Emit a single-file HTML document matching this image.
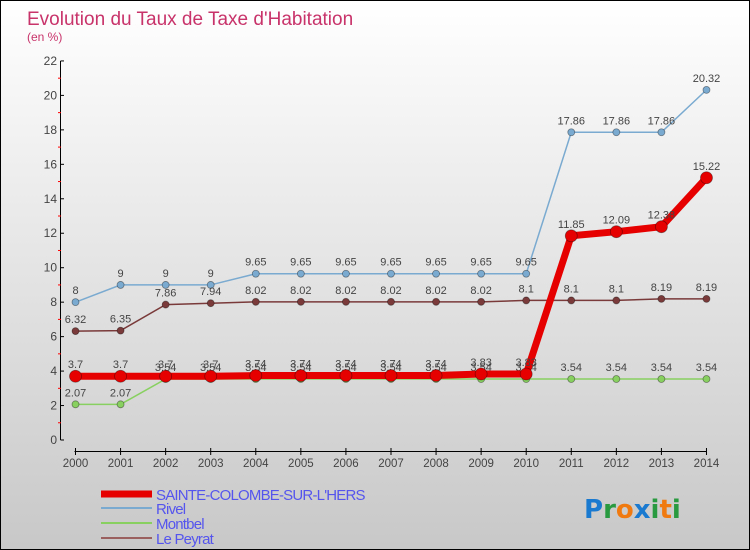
<!DOCTYPE html>
<html><head><meta charset="utf-8"><style>
body{margin:0}
#wrap{width:748px;height:548px;border:1px solid #000;background:linear-gradient(#fff,#c8c8c8);position:relative;font-family:"Liberation Sans",sans-serif;overflow:hidden}
</style></head><body>
<div id="wrap">
<svg id="svg" width="748" height="548" xmlns="http://www.w3.org/2000/svg"></svg>
</div>
<script>
const years=[2000,2001,2002,2003,2004,2005,2006,2007,2008,2009,2010,2011,2012,2013,2014];
const yTicks=[0,2,4,6,8,10,12,14,16,18,20,22];
const sainte=[3.7,3.7,3.7,3.7,3.74,3.74,3.74,3.74,3.74,3.83,3.83,11.85,12.09,12.38,15.22];
const rivel=[8,9,9,9,9.65,9.65,9.65,9.65,9.65,9.65,9.65,17.86,17.86,17.86,20.32];
const montbel=[2.07,2.07,3.54,3.54,3.54,3.54,3.54,3.54,3.54,3.54,3.54,3.54,3.54,3.54,3.54];
const peyrat=[6.32,6.35,7.86,7.94,8.02,8.02,8.02,8.02,8.02,8.02,8.1,8.1,8.1,8.19,8.19];
const svg=document.getElementById('svg');const NS='http://www.w3.org/2000/svg';
function X(i){return 74.5+i*45.07}
function Y(v){return 439-v*17.23}
function el(t,a,p){const e=document.createElementNS(NS,t);for(const k in a)e.setAttribute(k,a[k]);(p||svg).appendChild(e);return e}
function txt(s,x,y,a,p){const t=el('text',Object.assign({'font-family':'Liberation Sans, sans-serif'},a),p);t.setAttribute('x',x);t.setAttribute('y',y);t.textContent=s;return t}
let t=txt('Evolution du Taux de Taxe d\'Habitation',26,24,{'font-size':19,fill:'#c8336a'});
t=txt('(en %)',26,40,{'font-size':12,fill:'#c8336a'});
// axes
let ax=el('g',{});
el('line',{x1:59.5,y1:Y(22),x2:59.5,y2:Y(0),stroke:'#000'},ax);
yTicks.forEach(v=>{el('line',{x1:59.5,y1:Y(v),x2:63,y2:Y(v),stroke:'#000'},ax);
 if(v<22)el('line',{x1:57,y1:Y(v+1),x2:60,y2:Y(v+1),stroke:'#f00'},ax);
 txt(v,56,Y(v)+4,{'font-size':12,fill:'#444','text-anchor':'end'},ax);});
let xa=el('g',{});
el('line',{x1:X(0)-1,y1:450.5,x2:X(14),y2:450.5,stroke:'#000'},xa);
years.forEach((yr,i)=>{el('line',{x1:X(i),y1:447,x2:X(i),y2:454,stroke:'#000'},xa);txt(yr,X(i),466,{'font-size':11.5,fill:'#444','text-anchor':'middle'},xa);});
function series(d,color,w,r,name,labs){const g=el('g',{});
 el('polyline',{points:d.map((v,i)=>X(i)+','+Y(v)).join(' '),fill:'none',stroke:color,'stroke-width':w},g);
 d.forEach((v,i)=>{const c=el('circle',{cx:X(i),cy:Y(v),r:r,fill:color,stroke:'rgba(0,0,0,0.4)','stroke-width':0.8},g);});
 if(labs)d.forEach((v,i)=>txt(String(v),X(i),Y(v)-8,{'font-size':11,fill:'#444','text-anchor':'middle'},g));}
series(rivel,'#7aaad0',1.5,3.5,'rivel-series',true);
series(peyrat,'#7a3a3a',1.5,3.5,'le-peyrat-series',true);
series(montbel,'#88d060',1.5,3.5,'montbel-series',true);
series(sainte,'#e60000',7,6,'sainte-colombe-series',true);
// legend
const leg=[['SAINTE-COLOMBE-SUR-L\'HERS','#e60000',7],['Rivel','#7aaad0',2],['Montbel','#88d060',2],['Le Peyrat','#9a6060',2]];
leg.forEach((l,i)=>{const g=el('g',{});
 const y=[493,507,522,537][i];el('line',{x1:100,y1:y,x2:151,y2:y,stroke:l[1],'stroke-width':l[2]},g);
 txt(l[0],155,y+6,{'font-size':15,fill:'#5555ee','letter-spacing':'-0.8'},g);});
const lg=el('g',{});
const lt=el('text',{x:583,y:517,'font-size':26,'font-family':'DejaVu Sans, sans-serif','font-weight':'bold'},lg);
[['P','#1a7ad0'],['r','#2a9a40'],['o','#f07a10'],['x','#1a7ad0'],['i','#2a9a40'],['t','#f07a10'],['i','#2a9a40']].forEach(c=>{const s=el('tspan',{fill:c[1]},lt);s.textContent=c[0];});
</script>
</body></html>
